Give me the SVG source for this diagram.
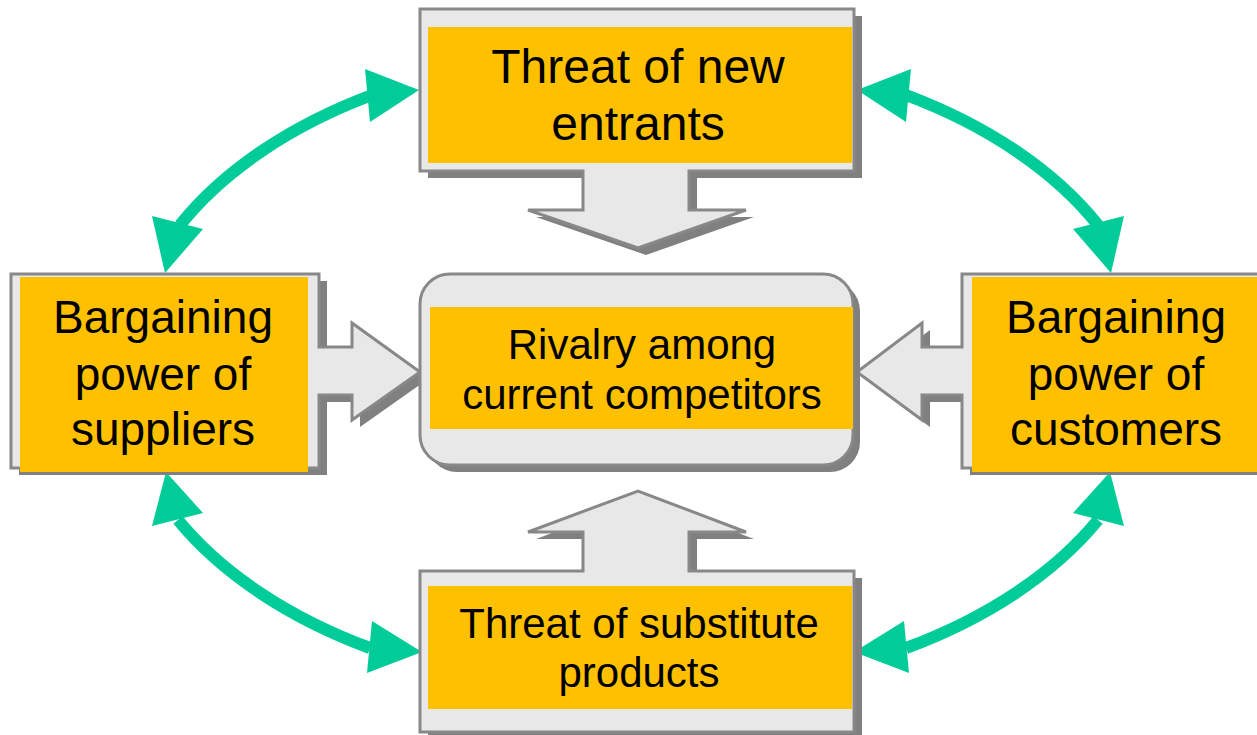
<svg xmlns="http://www.w3.org/2000/svg" width="1257" height="735" viewBox="0 0 1257 735">
<style>
.shadow{fill:#808080;stroke:none}
.frame{fill:#E8E8E8;stroke:#888888;stroke-width:3}
.hl{fill:#FFC000}
.t{font-family:"Liberation Sans",Arial,sans-serif;fill:#000;text-anchor:middle}
.arc{fill:none;stroke:#00CC99;stroke-width:12}
.head{fill:#00CC99}
</style>
<rect width="1257" height="735" fill="#fff"/>
<g id="connectors">
<path class="arc" d="M 180 225 A 500 320 0 0 1 372 95"/>
<path class="arc" d="M 906 95 A 500 320 0 0 1 1098 225"/>
<path class="arc" d="M 1098 520 A 500 320 0 0 1 906 648"/>
<path class="arc" d="M 178 520 A 500 320 0 0 0 370 648"/>
<polygon class="head" points="419,90 365,69 370,122"/>
<polygon class="head" points="165,273 152,216 203,229"/>
<polygon class="head" points="857,90 911,69 906,122"/>
<polygon class="head" points="1111,273 1124,216 1073,229"/>
<polygon class="head" points="1110,472 1073,513 1124,526"/>
<polygon class="head" points="854,652 904,621 909,673"/>
<polygon class="head" points="166,472 203,513 152,526"/>
<polygon class="head" points="422,652 372,621 367,673"/>
</g>
<g id="new-entrants">
<path class="shadow" transform="translate(8,7)" d="M 420 9 H 854 V 171 H 689 V 210 H 746 L 638 248 L 528 210 H 583 V 171 H 420 Z"/>
<path class="frame" d="M 420 9 H 854 V 171 H 689 V 210 H 746 L 638 248 L 528 210 H 583 V 171 H 420 Z"/>
<rect class="hl" x="428" y="27" width="424" height="136"/>
<text class="t" font-size="48" x="638" y="83">Threat of new</text>
<text class="t" font-size="48" x="638" y="140">entrants</text>
</g>
<g id="suppliers">
<path class="shadow" transform="translate(8,7)" d="M 11 274 H 319 V 347 H 352 V 323 L 420 372 L 352 420 V 395 H 319 V 468 H 11 Z"/>
<path class="frame" d="M 11 274 H 319 V 347 H 352 V 323 L 420 372 L 352 420 V 395 H 319 V 468 H 11 Z"/>
<rect class="hl" x="20" y="277" width="288" height="195"/>
<text class="t" font-size="46" x="163" y="333">Bargaining</text>
<text class="t" font-size="46" x="163" y="390">power of</text>
<text class="t" font-size="46" x="163" y="445">suppliers</text>
</g>
<g id="customers">
<path class="shadow" transform="translate(8,7)" d="M 1265 274 H 962 V 347 H 922 V 323 L 857 372 L 922 420 V 395 H 962 V 468 H 1265 Z"/>
<path class="frame" d="M 1265 274 H 962 V 347 H 922 V 323 L 857 372 L 922 420 V 395 H 962 V 468 H 1265 Z"/>
<rect class="hl" x="972" y="277" width="290" height="195"/>
<text class="t" font-size="46" x="1116" y="333">Bargaining</text>
<text class="t" font-size="46" x="1116" y="390">power of</text>
<text class="t" font-size="46" x="1116" y="445">customers</text>
</g>
<g id="rivalry">
<rect class="shadow" x="427" y="281" width="433" height="191" rx="30"/>
<rect class="frame" x="420" y="274" width="433" height="191" rx="30"/>
<rect class="hl" x="430" y="307" width="423" height="122"/>
<text class="t" font-size="42" x="642" y="359">Rivalry among</text>
<text class="t" font-size="42" x="642" y="409">current competitors</text>
</g>
<g id="substitutes">
<path class="shadow" transform="translate(8,7)" d="M 420 571 H 583 V 532 H 528 L 638 491 L 746 532 H 689 V 571 H 854 V 732 H 420 Z"/>
<path class="frame" d="M 420 571 H 583 V 532 H 528 L 638 491 L 746 532 H 689 V 571 H 854 V 732 H 420 Z"/>
<rect class="hl" x="428" y="586" width="424" height="123"/>
<text class="t" font-size="42" x="639" y="638">Threat of substitute</text>
<text class="t" font-size="42" x="639" y="687">products</text>
</g>
</svg>
